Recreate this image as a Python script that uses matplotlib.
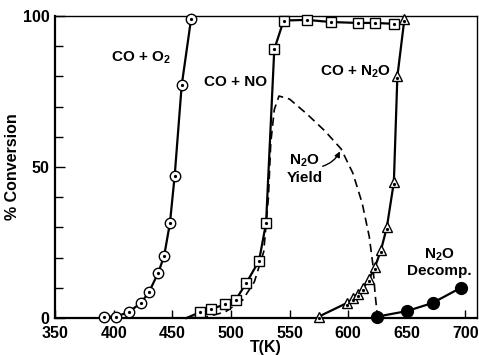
import numpy as np
import matplotlib
matplotlib.use('Agg')
import matplotlib.pyplot as plt

plt.rcParams['font.family'] = ['Liberation Sans', 'DejaVu Sans']
plt.rcParams['font.weight'] = 'bold'
plt.rcParams['mathtext.fontset'] = 'custom'
plt.rcParams['mathtext.rm'] = 'Liberation Sans:bold'
plt.rcParams['mathtext.default'] = 'rm'

# CO + O2 (open circles)
t_o2 = [392, 402, 413, 423, 430, 438, 443, 448, 452, 458, 466]
c_o2 = [0.5, 0.5, 2, 5, 8.5, 15, 20.5, 31.5, 47, 77, 99]

# CO + NO (open squares); first point is the start of the line only
t_no = [462, 474, 483, 495, 504, 513, 524, 530, 537, 545, 565, 585, 608, 623, 639]
c_no = [0, 2, 3, 4.5, 6, 11.5, 19, 31.5, 89, 98.5, 98.7, 98, 97.7, 97.7, 97.4]

# CO + N2O (open triangles)
t_n2o = [575, 599, 604, 608, 613, 618, 623, 628, 633, 639, 642, 648]
c_n2o = [0.5, 5, 6.5, 8, 10, 13, 17, 22.5, 30, 45, 80, 99]

# N2O decomposition (filled circles)
t_dec = [625, 650, 672, 696]
c_dec = [0.5, 2.3, 5, 10]

# N2O yield (dashed)
t_yld = [462, 480, 495, 510, 520, 528, 532, 534, 537, 541, 550, 565,
         580, 594, 604, 612, 618, 621, 623, 625]
c_yld = [0, 0.5, 2, 6, 12, 22, 40, 58, 69, 73.5, 72.5, 67.5,
         62, 56, 48, 38, 27, 18, 8, 0.5]

fig = plt.figure(figsize=(4.79, 3.55), dpi=100)
ax = fig.add_axes([0.115, 0.104, 0.881, 0.851])

ms = 7.5
dot = dict(marker='o', markersize=1.3, color='black', linestyle='none', clip_on=False, zorder=6)

ax.plot(t_yld, c_yld, color='black', lw=1.2, ls=(0, (5, 3)), zorder=2)

ax.plot(t_o2, c_o2, color='black', lw=1.6, marker='o', ms=ms, mfc='white',
        mec='black', mew=1.0, clip_on=False, zorder=5)
ax.plot(t_o2, c_o2, **dot)

ax.plot(t_no, c_no, color='black', lw=1.6, marker='s', ms=ms, mfc='white',
        mec='black', mew=1.0, markevery=list(range(1, len(t_no))), clip_on=False, zorder=5)
ax.plot(t_no[1:], c_no[1:], **dot)

ax.plot(t_n2o, c_n2o, color='black', lw=1.6, marker='^', ms=ms, mfc='white',
        mec='black', mew=1.0, clip_on=False, zorder=5)
ax.plot(t_n2o, [c - 0.6 for c in c_n2o], **dot)

ax.plot(t_dec, c_dec, color='black', lw=1.6, marker='o', ms=8.5, mfc='black',
        mec='black', clip_on=False, zorder=5)

ax.set_xlim(350, 710)
ax.set_ylim(0, 100)
ax.set_xticks([350, 400, 450, 500, 550, 600, 650, 700])
ax.set_yticks([0, 50, 100])
ax.set_yticks(np.arange(0, 101, 10), minor=True)
ax.tick_params(axis='both', direction='in', length=6, width=1.0, labelsize=11.5)
ax.tick_params(axis='x', pad=6)
ax.tick_params(axis='y', pad=4)
ax.tick_params(axis='y', which='minor', direction='in', length=6, width=1.0)
ax.tick_params(axis='y', which='major', length=7)
for lab in ax.get_xticklabels() + ax.get_yticklabels():
    lab.set_fontweight('bold')
for s in ['left', 'bottom']:
    ax.spines[s].set_linewidth(1.6)
for s in ['top', 'right']:
    ax.spines[s].set_linewidth(1.0)

ax.set_xlabel('T(K)', fontsize=11.5, fontweight='bold', labelpad=-1)
ax.set_ylabel('% Conversion', fontsize=11.5, fontweight='bold', labelpad=2)

fs = 11
ax.text(423, 86, r'CO + O$_2$', fontsize=fs, ha='center', va='center')
ax.text(504, 78, 'CO + NO', fontsize=fs, ha='center', va='center')
ax.text(606, 81.5, r'CO + N$_2$O', fontsize=fs, ha='center', va='center')
ax.text(678, 21, r'N$_2$O', fontsize=fs, ha='center', va='center')
ax.text(678, 15.5, 'Decomp.', fontsize=fs, ha='center', va='center')
ax.text(563, 52, r'N$_2$O', fontsize=fs, ha='center', va='center')
ax.text(563, 46.5, 'Yield', fontsize=fs, ha='center', va='center')
ax.annotate('', xy=(594, 56), xytext=(576, 50),
            arrowprops=dict(arrowstyle='-|>', lw=1.0, color='black',
                            connectionstyle='arc3,rad=0.25', mutation_scale=8))

fig.savefig('out.png', dpi=100)
